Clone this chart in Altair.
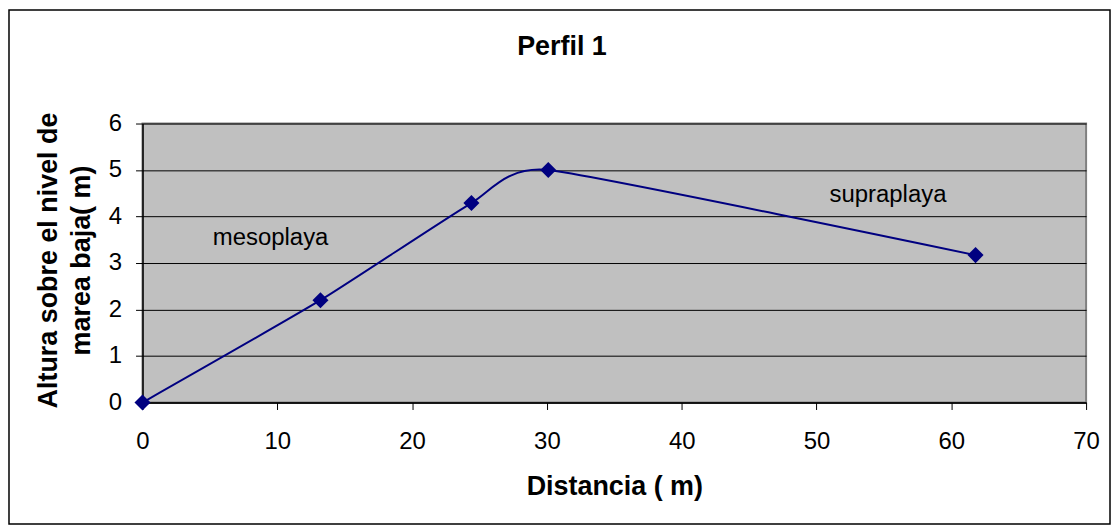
import altair as alt
import pandas as pd

# Data
distancia = [0, 13.2, 24.4, 30.1, 61.8]
altura = [0, 2.2, 4.29, 5.0, 3.17]

label_text = ["mesoplaya", "supraplaya"]
label_x = [9.5, 55.3]
label_y = [3.53, 4.46]

x_ticks = [0, 10, 20, 30, 40, 50, 60, 70]
y_ticks = [0, 1, 2, 3, 4, 5, 6]

FONT = "Liberation Sans"
NAVY = "#000080"

df = pd.DataFrame({"Distancia": distancia, "Altura": altura})
lab = pd.DataFrame({"t": label_text, "x": label_x, "y": label_y})

xs = alt.Scale(domain=[0, 70], nice=False, zero=True)
ys = alt.Scale(domain=[0, 6], nice=False)

x_axis = alt.Axis(
    title="Distancia ( m)", values=x_ticks, grid=False,
    domainColor="black", domainWidth=1.5, tickColor="black", tickSize=7,
    labelFontSize=24, labelFont=FONT, labelColor="black", labelPadding=20,
    titleFontSize=27, titleFont=FONT, titleFontWeight="bold", titleColor="black",
    titleBaseline="alphabetic", titleY=92, labelFlush=False,
)
y_axis = alt.Axis(
    title=["Altura sobre el nivel de", "marea baja( m)"], values=y_ticks,
    grid=True, gridColor="black", gridWidth=1,
    domainColor="black", domainWidth=1.5, tickColor="black", tickSize=7,
    labelFontSize=24, labelFont=FONT, labelColor="black", labelPadding=14,
    titleFontSize=27, titleFont=FONT, titleFontWeight="bold", titleColor="black",
    titleBaseline="alphabetic", titleAngle=270, titleAlign="center",
    titleX=-86, titleY=137, titleLineHeight=33, labelFlush=False,
)

base = alt.Chart(df)

line = base.mark_line(color=NAVY, strokeWidth=2, interpolate="cardinal", tension=0.5).encode(
    x=alt.X("Distancia:Q", scale=xs, axis=x_axis),
    y=alt.Y("Altura:Q", scale=ys, axis=y_axis),
)
pts = base.mark_point(shape="diamond", filled=True, color=NAVY, size=260, opacity=1).encode(
    x=alt.X("Distancia:Q", scale=xs),
    y=alt.Y("Altura:Q", scale=ys),
)
labels = alt.Chart(lab).mark_text(font=FONT, fontSize=24, color="black", align="center", baseline="middle").encode(
    x=alt.X("x:Q", scale=xs), y=alt.Y("y:Q", scale=ys), text="t:N"
)
title = alt.Chart(pd.DataFrame({"t": ["Perfil 1"]})).mark_text(
    font=FONT, fontSize=27, fontWeight="bold", color="black", align="center", baseline="alphabetic"
).encode(x=alt.value(421), y=alt.value(-69), text="t:N")

border = alt.Chart(pd.DataFrame({"a": [0]})).mark_rect(
    filled=False, stroke="black", strokeWidth=1.5
).encode(x=alt.value(-134), x2=alt.value(971), y=alt.value(-114), y2=alt.value(402))

chart = alt.layer(border, line, pts, labels, title).properties(
    width=947, height=280,
    background="white",
    autosize=alt.AutoSizeParams(type="none"),
    padding={"left": 135, "top": 115, "right": 26, "bottom": 125},
).configure_view(
    fill="#C0C0C0", stroke="#808080", strokeWidth=2
)

chart.save("out.html", embed_options={"renderer": "svg", "actions": False})
